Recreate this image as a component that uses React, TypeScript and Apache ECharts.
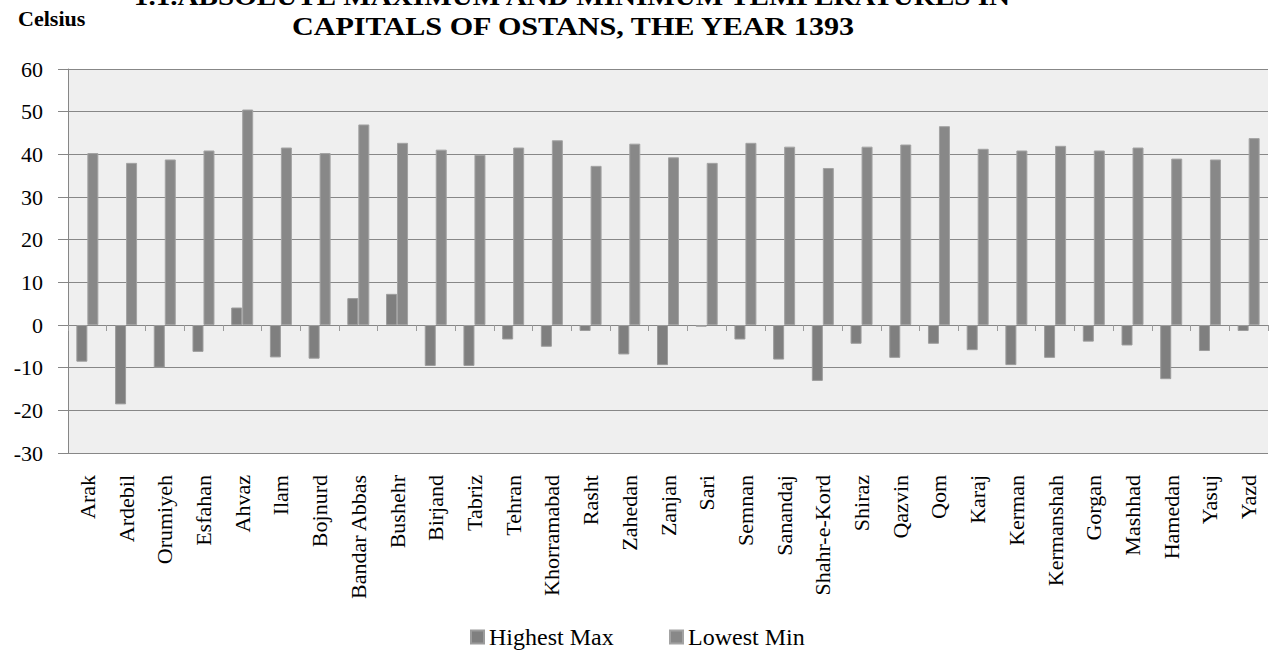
import React, { useEffect, useRef } from "react";
import * as echarts from "echarts";

const titleLine1 = "1.1.ABSOLUTE MAXIMUM AND MINIMUM TEMPERATURES IN";
const titleLine2 = "CAPITALS OF OSTANS, THE YEAR 1393";
const unitLabel = "Celsius";

const categories = [
  "Arak", "Ardebil", "Orumiyeh", "Esfahan", "Ahvaz", "Ilam", "Bojnurd",
  "Bandar Abbas", "Bushehr", "Birjand", "Tabriz", "Tehran", "Khorramabad",
  "Rasht", "Zahedan", "Zanjan", "Sari", "Semnan", "Sanandaj", "Shahr-e-Kord",
  "Shiraz", "Qazvin", "Qom", "Karaj", "Kerman", "Kermanshah", "Gorgan",
  "Mashhad", "Hamedan", "Yasuj", "Yazd",
];

const seriesNames = ["Highest Max", "Lowest Min"];

// left bar of each pair (legend: "Highest Max")
const firstBars = [
  -8.6, -18.6, -10.0, -6.3, 4.1, -7.6, -7.9,
  6.3, 7.3, -9.6, -9.6, -3.4, -5.1,
  -1.4, -6.9, -9.4, -0.4, -3.4, -8.1, -13.1,
  -4.4, -7.7, -4.4, -5.9, -9.4, -7.7, -3.9,
  -4.8, -12.7, -6.1, -1.4,
];

// right bar of each pair (legend: "Lowest Min")
const secondBars = [
  40.3, 38.0, 38.8, 40.9, 50.5, 41.6, 40.3,
  47.0, 42.7, 41.1, 39.9, 41.6, 43.3,
  37.3, 42.5, 39.3, 38.0, 42.7, 41.8, 36.8,
  41.8, 42.3, 46.6, 41.3, 40.9, 42.0, 40.9,
  41.6, 39.0, 38.8, 43.8,
];

const yMin = -30;
const yMax = 60;
const yStep = 10;

export default function App() {
  const ref = useRef<HTMLDivElement>(null);

  useEffect(() => {
    if (!ref.current) return;
    const chart = echarts.init(ref.current, null, { renderer: "svg" });
    const serif = "Liberation Serif";
    chart.setOption({
      animation: false,
      backgroundColor: "#ffffff",
      textStyle: { fontFamily: serif },
      grid: {
        left: 68,
        right: 1,
        top: 69,
        bottom: 199,
        show: true,
        backgroundColor: "#efefef",
        borderWidth: 0,
      },
      graphic: [
        {
          type: "text",
          x: 572,
          y: -3.5,
          scaleX: 1.12,
          style: {
            text: titleLine1,
            fontSize: 26,
            fontWeight: "bold",
            fontFamily: serif,
            fill: "#000",
            align: "center",
            verticalAlign: "middle",
          },
        },
        {
          type: "text",
          x: 573,
          y: 26.5,
          scaleX: 1.16,
          style: {
            text: titleLine2,
            fontSize: 26,
            fontWeight: "bold",
            fontFamily: serif,
            fill: "#000",
            align: "center",
            verticalAlign: "middle",
          },
        },
        {
          type: "text",
          x: 18,
          y: 19,
          scaleX: 1.05,
          style: {
            text: unitLabel,
            fontSize: 21,
            fontWeight: "bold",
            fontFamily: serif,
            fill: "#000",
            align: "left",
            verticalAlign: "middle",
          },
        },
      ],
      legend: {
        data: seriesNames,
        left: 465,
        top: 620,
        itemWidth: 13,
        itemHeight: 13,
        itemGap: 34,
        icon: "rect",
        textStyle: {
          fontFamily: serif,
          fontSize: 24,
          color: "#000",
          width: 146,
          lineHeight: 24,
        },
      },
      xAxis: [
        {
          type: "category",
          data: categories,
          position: "bottom",
          axisLine: { show: false, onZero: false },
          axisTick: { show: false },
          axisLabel: {
            rotate: 90,
            interval: 0,
            margin: 22,
            fontSize: 22,
            fontFamily: serif,
            color: "#000",
          },
        },
        {
          type: "category",
          data: categories,
          position: "bottom",
          axisLine: { show: true, onZero: true, lineStyle: { color: "#868686", width: 1 } },
          axisTick: { show: true, length: 6, interval: 0, lineStyle: { color: "#9a9a9a" } },
          axisLabel: { show: false },
        },
      ],
      yAxis: {
        type: "value",
        min: yMin,
        max: yMax,
        interval: yStep,
        axisLine: { show: true, lineStyle: { color: "#868686", width: 1 } },
        axisTick: { show: true, length: 10, lineStyle: { color: "#868686" } },
        axisLabel: {
          margin: 25,
          fontSize: 22,
          fontFamily: serif,
          color: "#000",
        },
        splitLine: { show: true, lineStyle: { color: "#878787", width: 1 } },
      },
      series: [
        {
          name: seriesNames[0],
          type: "bar",
          xAxisIndex: 0,
          data: firstBars,
          barWidth: 11,
          barGap: "0%",
          itemStyle: { color: "#7f7f7f", borderColor: "#9c9c9c", borderWidth: 1 },
        },
        {
          name: seriesNames[1],
          type: "bar",
          xAxisIndex: 0,
          data: secondBars,
          barWidth: 11,
          barGap: "0%",
          itemStyle: { color: "#888888", borderColor: "#a3a3a3", borderWidth: 1 },
        },
      ],
    });
    return () => chart.dispose();
  }, []);

  return (
    <div
      ref={ref}
      style={{ position: "absolute", left: 0, top: 0, width: 1269, height: 652 }}
    />
  );
}
